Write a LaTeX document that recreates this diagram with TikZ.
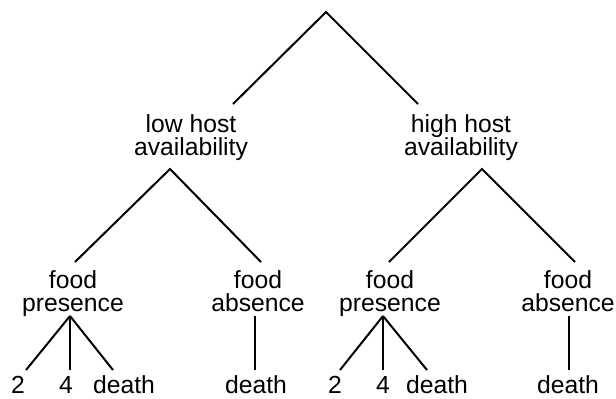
\documentclass[tikz,border=0pt]{standalone}
\usepackage{fontspec}
\setmainfont{Liberation Sans}
\usepackage{tikz}

\begin{document}
\begin{tikzpicture}[x=0.5pt, y=-0.5pt,
  branch/.style={line width=1pt},
  word/.style={inner sep=0pt, align=center, font=\fontsize{12.35}{11.8}\selectfont},
  leaf/.style={word, anchor=base}]
  \useasboundingbox (0,0) rectangle (616,398);
  % level 1
  \coordinate (root) at (326,12);
  \node[word, anchor=north] (low) at (191,114) {low host\\availability};
  \node[word, anchor=north] (high) at (461,114) {high host\\availability};
  \coordinate (low in) at (233,104);
  \coordinate (high in) at (418,104);
  \draw[branch] (low in) -- (root) -- (high in);
  % level 2
  \coordinate (low out) at (170,169);
  \coordinate (high out) at (482,169);
  \node[word, anchor=north] (lowpres) at (73,270) {food\\presence};
  \node[word, anchor=north] (lowabs) at (258,270) {food\\absence};
  \node[word, anchor=north] (highpres) at (390,270) {food\\presence};
  \node[word, anchor=north] (highabs) at (568,270) {food\\absence};
  \coordinate (lowpres in) at (75,262);
  \coordinate (lowabs in) at (261,262);
  \coordinate (highpres in) at (389,262);
  \coordinate (highabs in) at (575,262);
  \draw[branch] (lowpres in) -- (low out) -- (lowabs in);
  \draw[branch] (highpres in) -- (high out) -- (highabs in);
  % level 3
  \coordinate (lowpres out) at (70,316);
  \coordinate (lowabs out) at (255,316);
  \coordinate (highpres out) at (383,316);
  \coordinate (highabs out) at (569,316);
  \node[leaf] (l2) at (18,393) {2};
  \node[leaf] (l4) at (66,393) {4};
  \node[leaf] (ld) at (124,393) {death};
  \node[leaf] (lad) at (256,393) {death};
  \node[leaf] (h2) at (335,393) {2};
  \node[leaf] (h4) at (383,393) {4};
  \node[leaf] (hd) at (437,393) {death};
  \node[leaf] (had) at (568,393) {death};
  \coordinate (l2 in) at (26,370);
  \coordinate (l4 in) at (70,370);
  \coordinate (ld in) at (113,370);
  \coordinate (lad in) at (255,370);
  \coordinate (h2 in) at (340,370);
  \coordinate (h4 in) at (383,370);
  \coordinate (hd in) at (427,370);
  \coordinate (had in) at (569,370);
  \foreach \a/\b in {lowpres/l2, lowpres/l4, lowpres/ld, lowabs/lad,
    highpres/h2, highpres/h4, highpres/hd, highabs/had}
    \draw[branch] (\a\space out) -- (\b\space in);
\end{tikzpicture}
\end{document}
